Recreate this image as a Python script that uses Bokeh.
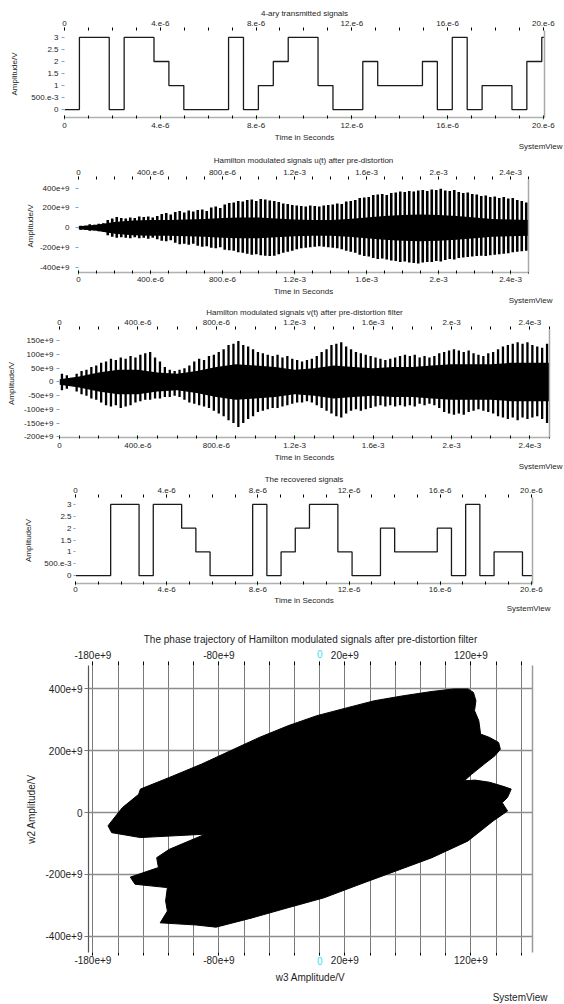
from bokeh.plotting import figure
from bokeh.layouts import column
from bokeh.models import LinearAxis, FixedTicker, CustomJSTickFormatter, Range1d, Title
from bokeh.embed import file_html
from bokeh.resources import INLINE

FONT = "Liberation Sans"
TXT = "#1e1e1e"
GREEN = "#3fd33f"
BLUE = "#6fa8dc"
CYAN = "#33e0f0"

# ---------------- data ----------------
# 4-ary symbols (transmitted) and recovered
symbols = [0, 3, 3, 0, 3, 3, 2, 1, 0, 0, 0, 3, 0, 1, 2, 3, 3, 1, 0, 0, 2, 1, 1, 1, 2, 0, 3, 0, 1, 1, 0, 2, 3]
symbol_period = 0.623e-6
rx_symbols = [0, 3, 3, 0, 3, 3, 2, 1, 0, 0, 0, 3, 0, 1, 2, 3, 3, 1, 0, 0, 2, 1, 1, 1, 2, 0, 3, 0, 1, 1, 0]
rx_delay = 0.92e-6
t_end_sym = 20.05e-6

# Hamilton modulated u(t): spike peaks (e9) every 25 us, core envelope (e9) every 0.1 ms
spike_period = 25e-6
u_hi = [20, 20, 35, 30, 40, 45, 80, 95, 110, 100,
        95, 105, 100, 115, 110, 115, 105, 120, 140, 150,
        135, 160, 170, 155, 175, 165, 180, 185, 170, 205,
        215, 200, 235, 250, 255, 270, 265, 280, 285, 270,
        290, 285, 275, 270, 260, 245, 240, 230, 225, 220,
        215, 225, 220, 215, 225, 230, 235, 245, 240, 265,
        270, 280, 300, 305, 310, 330, 335, 340, 330, 350,
        355, 365, 360, 370, 365, 375, 380, 370, 385, 380,
        395, 375, 370, 380, 360, 350, 355, 340, 335, 320,
        325, 310, 315, 300, 310, 295, 300, 280, 270, 255]
u_lo = [20, 20, 30, 25, 35, 40, 75, 90, 100, 95,
        100, 105, 95, 105, 100, 110, 100, 115, 130, 135,
        125, 150, 165, 160, 170, 160, 180, 190, 185, 200,
        205, 195, 220, 225, 230, 245, 250, 260, 270, 265,
        275, 280, 285, 280, 265, 250, 240, 230, 215, 205,
        200, 195, 190, 185, 190, 195, 200, 205, 215, 230,
        240, 250, 270, 285, 290, 305, 315, 310, 320, 330,
        335, 345, 340, 350, 355, 360, 350, 345, 345, 335,
        340, 325, 315, 320, 305, 300, 295, 290, 285, 280,
        285, 275, 270, 265, 260, 255, 245, 240, 235, 230]
core_period = 0.1e-3
u_core = [15, 30, 60, 75, 80, 80, 85, 90, 100, 105, 105, 95, 85, 80, 80, 90,
          105, 120, 130, 135, 130, 120, 105, 90, 85, 80]

# Hamilton modulated v(t)
v_hi = [30, 25, 15, 30, 40, 45, 55, 60, 70, 75,
        85, 80, 90, 85, 95, 90, 100, 105, 110, 90,
        75, 55, 45, 40, 45, 50, 60, 75, 85, 80,
        95, 100, 110, 120, 135, 140, 150, 135, 130, 120,
        110, 105, 100, 95, 100, 90, 95, 85, 80, 75,
        80, 85, 95, 110, 120, 135, 140, 145, 130, 120,
        110, 105, 100, 95, 90, 85, 80, 85, 90, 95,
        100, 95, 100, 90, 95, 90, 95, 105, 110, 115,
        120, 115, 110, 115, 105, 100, 95, 105, 110, 120,
        130, 135, 140, 145, 140, 145, 135, 130, 125, 140]
v_lo = [30, 25, 15, 35, 45, 50, 60, 65, 75, 85,
        90, 85, 95, 90, 85, 75, 70, 65, 65, 60,
        60, 55, 55, 50, 55, 65, 75, 80, 85, 90,
        95, 105, 115, 125, 140, 150, 165, 150, 135, 125,
        110, 105, 100, 95, 95, 90, 85, 80, 75, 75,
        70, 75, 85, 95, 105, 115, 125, 130, 115, 105,
        100, 105, 100, 95, 90, 85, 90, 85, 90, 85,
        90, 85, 90, 80, 85, 80, 85, 95, 110, 115,
        120, 115, 120, 110, 105, 100, 105, 110, 115, 125,
        130, 135, 130, 140, 130, 135, 130, 125, 135, 150]
v_core = [10, 20, 35, 45, 45, 35, 30, 40, 55, 65, 60, 55, 45, 50, 60, 55,
          50, 55, 55, 60, 65, 65, 65, 70, 70, 70]

# phase trajectory outline (w3, w2) in e9
phase_w3 = [-143.7, -142.3, -119.4, -93.7, -70.9, -48.0, -25.1, -2.3, 20.6, 43.4, 66.3, 89.1,
            106.3, 117.7, 122.0, 124.0, 122.9, 126.3, 127.7, 134.9, 142.0, 143.4, 139.1, 130.6,
            120.6, 114.8, 123.4, 134.9, 146.3, 152.0, 149.1, 144.9, 149.1, 137.7, 117.7, 89.1,
            60.6, 32.0, 3.4, -25.1, -53.7, -82.3, -98.0, -126.6, -120.9, -122.3, -120.9, -146.6,
            -150.3, -128.0, -129.4, -119.4, -90.9, -142.3, -165.1, -168.0, -165.0, -156.6]
phase_w2 = [59, 76, 113.5, 157, 200, 243, 281, 313.5, 338, 362, 378, 392,
            400, 400, 389, 362, 330, 297, 254, 243, 227, 205, 184, 157,
            124, 103, 105, 98, 84, 76, 49, 32, 5, -27, -92, -146,
            -189, -232, -276, -308, -341, -371, -364, -357, -319, -286, -243, -232,
            -209, -178, -146, -119, -70, -81, -65, -43, -27, 16]

# tick labels
sym_x_vals = [0, 4, 8, 12, 16, 20]
sym_x_text = ["0", "4.e-6", "8.e-6", "12.e-6", "16.e-6", "20.e-6"]
sym_y_vals = [0, 1, 2, 3, 4, 5, 6]
sym_y_text = ["0", "500.e-3", "1", "1.5", "2", "2.5", "3"]
mod_x_vals = [0, 4, 8, 12, 16, 20, 24]
mod_x_text = ["0", "400.e-6", "800.e-6", "1.2e-3", "1.6e-3", "2.e-3", "2.4e-3"]
u_y_vals = [-4, -2, 0, 2, 4]
u_y_text = ["-400e+9", "-200e+9", "0", "200e+9", "400e+9"]
v_y_vals = [-4, -3, -2, -1, 0, 1, 2, 3]
v_y_text = ["-200e+9", "-150e+9", "-100e+9", "-50e+9", "0", "50e+9", "100e+9", "150e+9"]
ph_x_vals = [-18, -8, 0, 2, 12]
ph_x_text = ["-180e+9", "-80e+9", "0", "20e+9", "120e+9"]
ph_y_vals = [-4, -2, 0, 2, 4]
ph_y_text = ["-400e+9", "-200e+9", "0", "200e+9", "400e+9"]

W = 564
FS = "8px"
FS5 = "10px"


def fmt(vals, texts, scale):
    return CustomJSTickFormatter(
        args=dict(vals=vals, texts=texts, scale=scale),
        code="const k = Math.round(tick / scale); const i = vals.indexOf(k); return i >= 0 ? texts[i] : '';")


def base(h, xr, yr, left, right, top, bottom, title, fs, title_standoff):
    p = figure(width=W, height=h, x_range=Range1d(*xr), y_range=Range1d(*yr),
               toolbar_location=None, output_backend="svg",
               x_axis_location=None, y_axis_location=None,
               min_border_left=left, min_border_right=right,
               min_border_top=top, min_border_bottom=bottom,
               outline_line_color=None, background_fill_color="white",
               border_fill_color="white", title=title, frame_align=False)
    p.xgrid.visible = False
    p.ygrid.visible = False
    p.title.align = "center"
    p.title.text_font = FONT
    p.title.text_font_size = fs
    p.title.text_font_style = "normal"
    p.title.text_color = TXT
    p.title.standoff = title_standoff
    return p


def xaxis(p, loc, ticks, minor, vals, texts, scale, fs, label=None, line_color=None,
          t_in=0, t_out=3, m_in=0, m_out=3, lstand=2, astand=2, text_color=TXT):
    ax = LinearAxis(ticker=FixedTicker(ticks=ticks, minor_ticks=minor),
                    formatter=fmt(vals, texts, scale),
                    axis_line_color=line_color, axis_line_width=1.5,
                    major_tick_line_color=GREEN, minor_tick_line_color="black",
                    major_tick_in=t_in, major_tick_out=t_out,
                    minor_tick_in=m_in, minor_tick_out=m_out,
                    major_label_text_font=FONT, major_label_text_font_size=fs,
                    major_label_text_color=text_color, major_label_standoff=lstand)
    if label:
        ax.axis_label = label
        ax.axis_label_text_font = FONT
        ax.axis_label_text_font_size = fs
        ax.axis_label_text_font_style = "normal"
        ax.axis_label_text_color = TXT
        ax.axis_label_standoff = astand
    p.add_layout(ax, loc)
    return ax


def yaxis(p, ticks, vals, texts, scale, label, standoff, fs, lstand=3, line_color=None,
          tick_color=BLUE, t_out=3):
    ax = LinearAxis(ticker=FixedTicker(ticks=ticks), formatter=fmt(vals, texts, scale),
                    axis_line_color=line_color, axis_line_width=1.2,
                    major_tick_line_color=tick_color, minor_tick_line_color=None,
                    major_tick_in=0, major_tick_out=t_out,
                    major_label_text_font=FONT, major_label_text_font_size=fs,
                    major_label_text_color=TXT, major_label_standoff=lstand,
                    major_label_orientation="horizontal",
                    axis_label=label, axis_label_text_font=FONT,
                    axis_label_text_font_size=fs, axis_label_text_font_style="normal",
                    axis_label_text_color=TXT, axis_label_standoff=standoff)
    p.add_layout(ax, "left")
    return ax


def border_right(p, color="#a8a8a8"):
    ax = LinearAxis(ticker=FixedTicker(ticks=[]), axis_line_color=color, axis_line_width=1.5,
                    major_tick_out=0, major_tick_in=0, major_label_text_font_size="0px",
                    major_label_standoff=0)
    p.add_layout(ax, "right")


def system_view(p, offset, standoff, fs):
    p.add_layout(Title(text="SystemView", align="right", offset=offset, text_font=FONT,
                       text_font_size=fs, text_font_style="normal", text_color=TXT,
                       standoff=standoff), "below")


def sym_panel(h, left, right, top, bottom, title, xs, ys, tstand, bl, ba, ystand, ylst, ytout, sv):
    p = base(h, (0, t_end_sym), (-0.33, 3.29), left, right, top, bottom, title, FS, tstand)
    p.step(x=xs, y=ys, mode="after", line_color="#1a1a1a", line_width=1.3)
    ticks = [v * 1e-6 for v in sym_x_vals]
    minor = [i * 1e-6 for i in range(0, 21)]
    xaxis(p, "above", ticks, minor, sym_x_vals, sym_x_text, 1e-6, FS)
    xaxis(p, "below", ticks, minor, sym_x_vals, sym_x_text, 1e-6, FS, label="Time in Seconds",
          line_color="#b0b0b0", t_in=2, t_out=2, m_in=2, m_out=1, lstand=bl, astand=ba)
    yaxis(p, [v * 0.5 for v in sym_y_vals], sym_y_vals, sym_y_text, 0.5, "Amplitude/V", ystand, FS,
          lstand=ylst, t_out=ytout)
    border_right(p)
    system_view(p, sv[0], sv[1], FS)
    return p


def mod_panel(h, yr, left, right, top, bottom, title, hi, lo, core, yvals, ytext, yscale,
              tstand, bl, ba, ystand, ylst, sv, lw):
    p = base(h, (0, 2.5e-3), yr, left, right, top, bottom, title, FS, tstand)
    ts = [(k + 0.5) * spike_period for k in range(len(hi))]
    tc = [k * core_period for k in range(len(core))]
    p.varea(x=tc, y1=[-c * 1e9 for c in core], y2=[c * 1e9 for c in core], fill_color="black")
    p.segment(x0=ts, y0=[-v * 1e9 for v in lo], x1=ts, y1=[v * 1e9 for v in hi],
              line_color="black", line_width=lw)
    ticks = [v * 1e-4 for v in mod_x_vals]
    minor = [i * 1e-4 for i in range(0, 26)]
    xaxis(p, "above", ticks, minor, mod_x_vals, mod_x_text, 1e-4, FS)
    xaxis(p, "below", ticks, minor, mod_x_vals, mod_x_text, 1e-4, FS, label="Time in Seconds",
          line_color="#b0b0b0", t_in=2, t_out=2, m_in=2, m_out=1, lstand=bl, astand=ba)
    yaxis(p, [v * yscale for v in yvals], yvals, ytext, yscale, "Amplitude/V", ystand, FS, lstand=ylst)
    border_right(p)
    system_view(p, sv[0], sv[1], FS)
    return p


# Panel 1: transmitted (figure 0..151, frame x 64..544, y 30..117)
tx_x = [k * symbol_period for k in range(len(symbols))] + [t_end_sym]
tx_y = symbols + [symbols[-1]]
p1 = sym_panel(151, 64, 20, 30, 34, "4-ary transmitted signals", tx_x, tx_y,
               0, 3, 2, 9, 3, 3, (-18, -9))

# Panel 2: u(t) (figure 151..305, frame x 78..528, y 176..272)
p2 = mod_panel(154, (-450e9, 487e9), 78, 36, 25, 33,
               "Hamilton modulated signals u(t) after pre-distortion",
               u_hi, u_lo, u_core, u_y_vals, u_y_text, 1e11, 4, 2, 2, 2, 6, (-24, -12), 2.6)

# Panel 3: v(t) (figure 305..470, frame x 59..549, y 329..437)
p3 = mod_panel(165, (-203e9, 192e9), 59, 15, 24, 33,
               "Hamilton modulated signals v(t) after pre-distortion filter",
               v_hi, v_lo, v_core, v_y_vals, v_y_text, 5e10, 0, 3, 2, 5, 3, (-13, -9), 2.3)

# Panel 4: recovered (figure 470..619, frame x 75..532, y 497..583)
rx_x = [0.0] + [rx_delay + k * symbol_period for k in range(len(rx_symbols))] + [t_end_sym]
rx_y = [rx_symbols[0]] + rx_symbols + [rx_symbols[-1]]
p4 = sym_panel(149, 75, 32, 27, 36, "The recovered signals", rx_x, rx_y,
               1, 1, 1, 8, 2, 2, (-18, -11))

# Panel 5: phase trajectory (figure 619..1003, frame x 88..532, y 665..952)
p5 = base(384, (-183.5e9, 168.9e9), (-453e9, 476e9), 88, 32, 46, 51,
          "The phase trajectory of Hamilton modulated signals after pre-distortion filter", FS5, 3)
p5.xgrid.visible = True
p5.ygrid.visible = True
grid_x = [i * 20e9 for i in range(-9, 9)]
p5.xgrid.ticker = FixedTicker(ticks=grid_x)
p5.ygrid.ticker = FixedTicker(ticks=[v * 1e11 for v in ph_y_vals])
p5.xgrid.grid_line_color = "#7a7a7a"
p5.ygrid.grid_line_color = "#8c8c8c"
p5.ygrid.grid_line_width = 1.5
p5.patch(x=[v * 1e9 for v in phase_w3], y=[v * 1e9 for v in phase_w2],
         fill_color="black", line_color="black")
ph_ticks = [v * 1e10 for v in ph_x_vals]
ph_dark_text = [t if v != 0 else "" for v, t in zip(ph_x_vals, ph_x_text)]
ph_cyan_text = [t if v == 0 else "" for v, t in zip(ph_x_vals, ph_x_text)]
# inner axes: ticks + cyan "0"; outer axes: the other labels, pulled back into the same row
xaxis(p5, "above", ph_ticks, grid_x, ph_x_vals, ph_cyan_text, 1e10, FS5, t_out=4, m_out=4,
      lstand=4, text_color=CYAN)
xaxis(p5, "above", ph_ticks, [], ph_x_vals, ph_dark_text, 1e10, FS5, t_out=0, m_out=0,
      lstand=-12)
xaxis(p5, "below", ph_ticks, grid_x, ph_x_vals, ph_cyan_text, 1e10, FS5, t_out=3, m_out=3,
      lstand=1, text_color=CYAN)
xaxis(p5, "below", ph_ticks, [], ph_x_vals, ph_dark_text, 1e10, FS5, label="w3 Amplitude/V",
      t_out=0, m_out=0, lstand=-12, astand=5)
yaxis(p5, [v * 1e11 for v in ph_y_vals], ph_y_vals, ph_y_text, 1e11, "w2 Amplitude/V", 6, FS5,
      lstand=2, line_color="#555555", tick_color="#777777", t_out=4)
border_right(p5, "#9a9a9a")
p5.add_layout(Title(text="\u00a0", text_font=FONT, text_font_size=FS5, standoff=-6), "below")
system_view(p5, -15, -6, FS5)

layout = column(p1, p2, p3, p4, p5, spacing=0)
open("out.html", "w").write(file_html(layout, INLINE))
